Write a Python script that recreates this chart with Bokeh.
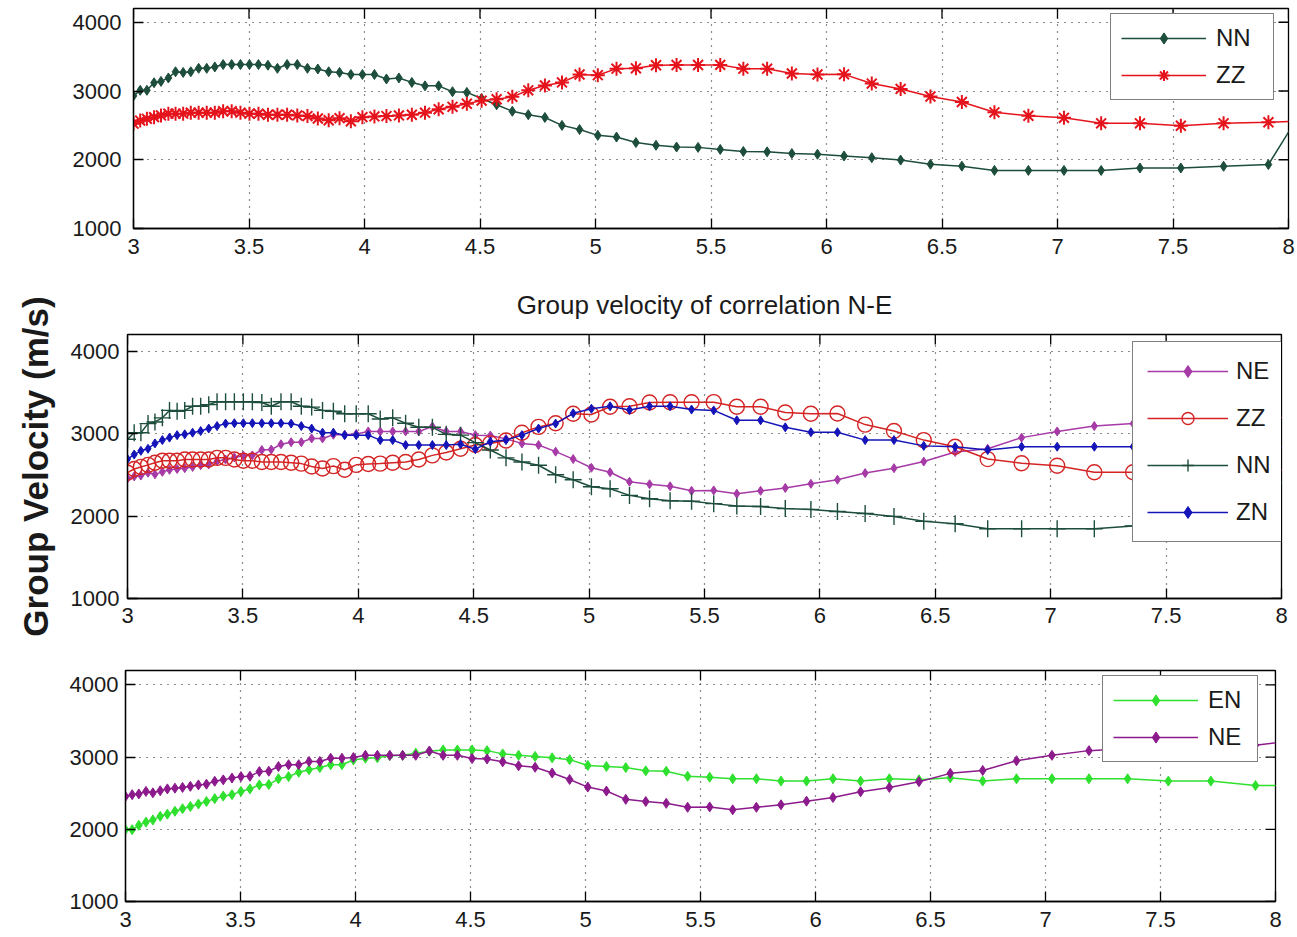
import math
from bokeh.plotting import figure
from bokeh.layouts import column
from bokeh.models import FixedTicker, Legend, LegendItem, Range1d, Title
from bokeh.embed import file_html
from bokeh.resources import INLINE

# ---------------- data ----------------
period = [3.000, 3.029, 3.058, 3.089, 3.119, 3.151, 3.182, 3.215, 3.248, 3.282,
          3.317, 3.352, 3.388, 3.425, 3.463, 3.502, 3.541, 3.582, 3.623, 3.665,
          3.709, 3.753, 3.798, 3.845, 3.892, 3.941, 3.991, 4.043, 4.095, 4.149,
          4.205, 4.262, 4.321, 4.381, 4.443, 4.507, 4.572, 4.640, 4.709, 4.781,
          4.855, 4.931, 5.010, 5.091, 5.175, 5.262, 5.351, 5.444, 5.540, 5.640,
          5.743, 5.850, 5.961, 6.076, 6.196, 6.321, 6.450, 6.586, 6.727, 6.874,
          7.028, 7.189, 7.357, 7.534, 7.719, 7.913, 8.118]

NN = [2930, 3010, 3010, 3120, 3140, 3190, 3280, 3270, 3280, 3330,
      3330, 3350, 3385, 3385, 3385, 3385, 3385, 3375, 3330, 3385,
      3385, 3330, 3320, 3280, 3270, 3240, 3240, 3240, 3175, 3190,
      3125, 3075, 3075, 2990, 2980, 2890, 2800, 2705, 2655, 2615,
      2500, 2440, 2355, 2330, 2250, 2210, 2185, 2180, 2150, 2120,
      2115, 2090, 2080, 2055, 2030, 1995, 1935, 1907, 1845, 1845,
      1845, 1845, 1880, 1880, 1905, 1930, 3040]

ZZ = [2525, 2570, 2595, 2620, 2645, 2670, 2670, 2670, 2685, 2685,
      2685, 2685, 2705, 2705, 2685, 2670, 2670, 2655, 2655, 2655,
      2645, 2635, 2600, 2575, 2605, 2560, 2620, 2630, 2635, 2645,
      2655, 2685, 2735, 2770, 2815, 2860, 2880, 2915, 3010, 3080,
      3125, 3240, 3230, 3325, 3330, 3375, 3378, 3378, 3380, 3325,
      3325, 3255, 3240, 3242, 3108, 3030, 2920, 2840, 2690, 2640,
      2610, 2530, 2530, 2495, 2530, 2545, 2575]

ZN = [2690, 2745, 2790, 2815, 2880, 2920, 2950, 2980, 2990, 3010,
      3030, 3060, 3090, 3120, 3125, 3125, 3125, 3125, 3125, 3125,
      3120, 3090, 3060, 3010, 3010, 2980, 2980, 2980, 2920, 2920,
      2860, 2860, 2860, 2860, 2870, 2810, 2900, 2920, 2980, 3060,
      3120, 3245, 3300, 3330, 3285, 3330, 3330, 3290, 3280, 3160,
      3160, 3075, 3015, 3015, 2920, 2920, 2850, 2840, 2800, 2840,
      2840, 2840, 2840, 2840, 2840, 2840, 2840]

NE = [2455, 2480, 2490, 2525, 2505, 2535, 2560, 2570, 2580, 2595,
      2615, 2625, 2665, 2685, 2710, 2730, 2735, 2800, 2805, 2870,
      2895, 2895, 2940, 2940, 2985, 2985, 2995, 3025, 3025, 3025,
      3025, 3025, 3085, 3025, 3025, 2980, 2975, 2935, 2880, 2860,
      2780, 2690, 2585, 2530, 2415, 2385, 2360, 2305, 2310, 2270,
      2305, 2340, 2390, 2440, 2520, 2580, 2660, 2775, 2815, 2950,
      3025, 3090, 3120, 3135, 3150, 3165, 3240]

EN = [1995, 1995, 2055, 2100, 2130, 2180, 2210, 2250, 2285, 2315,
      2350, 2385, 2425, 2460, 2480, 2525, 2560, 2615, 2620, 2700,
      2730, 2790, 2825, 2855, 2895, 2895, 2960, 2985, 2990, 3020,
      3025, 3055, 3080, 3100, 3100, 3100, 3090, 3045, 3025, 3010,
      2990, 2965, 2885, 2870, 2855, 2810, 2805, 2735, 2722, 2700,
      2700, 2668, 2668, 2700, 2668, 2700, 2685, 2713, 2668, 2700,
      2700, 2700, 2700, 2668, 2668, 2606, 2606]

x_ticks = [3, 3.5, 4, 4.5, 5, 5.5, 6, 6.5, 7, 7.5, 8]
x_tick_labels = ["3", "3.5", "4", "4.5", "5", "5.5", "6", "6.5", "7", "7.5", "8"]
y_ticks = [1000, 2000, 3000, 4000]
y_tick_labels = ["1000", "2000", "3000", "4000"]
X_MIN, X_MAX = 3, 8
Y_MIN, Y_MAX = 1000, 4200

title_mid = "Group velocity of correlation N-E"
y_label = "Group Velocity (m/s)"

FONT = "Liberation Sans"
TICK_FS = "22px"
LEG_FS = "24px"
TXT = "#1a1a1a"

C_NN = "#1d4d3b"
C_ZZ = "#e5141c"
C_ZZ2 = "#d42424"
C_ZN = "#1414b8"
C_NE1 = "#a63aa6"
C_NE2 = "#8c1a8c"
C_EN = "#2fe02f"


def style_axis(ax, ticks, labels, standoff):
    ax.ticker = FixedTicker(ticks=ticks)
    ax.major_label_overrides = {t: l for t, l in zip(ticks, labels)}
    ax.major_tick_in = 10
    ax.major_tick_out = 0
    ax.minor_tick_in = 0
    ax.minor_tick_out = 0
    ax.axis_line_color = "black"
    ax.axis_line_width = 1.3
    ax.major_tick_line_color = "black"
    ax.major_tick_line_width = 1.3
    ax.major_label_text_font = FONT
    ax.major_label_text_font_size = TICK_FS
    ax.major_label_text_color = TXT
    ax.major_label_standoff = standoff


def make_fig(height, bl, br, bt, bb, xs, ys):
    p = figure(width=1297, height=height,
               x_range=Range1d(X_MIN, X_MAX), y_range=Range1d(Y_MIN, Y_MAX),
               output_backend="svg", toolbar_location=None,
               min_border_left=bl, min_border_right=br,
               min_border_top=bt, min_border_bottom=bb)
    if "frame_align" in p.properties():
        p.frame_align = False
    p.outline_line_color = "black"
    p.outline_line_width = 1.3
    p.background_fill_color = "white"
    p.border_fill_color = "white"
    style_axis(p.xaxis[0], x_ticks, x_tick_labels, xs)
    style_axis(p.yaxis[0], y_ticks, y_tick_labels, ys)
    p.xgrid[0].ticker = FixedTicker(ticks=x_ticks)
    p.ygrid[0].ticker = FixedTicker(ticks=y_ticks)
    for g in (p.xgrid[0], p.ygrid[0]):
        g.grid_line_color = "black"
        g.grid_line_alpha = 0.9
        g.grid_line_width = 1.2
        g.grid_line_dash = "1 6"
    # inward ticks on the top and right frame edges (box on), clipped by the frame
    p.scatter(x_ticks, [Y_MAX] * len(x_ticks), marker="dash", angle=math.pi / 2,
              size=20, line_color="black", line_width=1.3)
    p.scatter([X_MAX] * len(y_ticks), y_ticks, marker="dash",
              size=20, line_color="black", line_width=1.3)
    return p


def series(p, y, color, marker, size, fill=True, lw=1.5, mlw=1.0):
    l = p.line(period, y, line_color=color, line_width=lw)
    s = p.scatter(period, y, marker=marker, size=size,
                  fill_color=color if fill else None,
                  line_color=color, line_width=mlw)
    return [l, s]


def add_legend(p, items, loc, pad, spacing, gw, gh, lw, standoff=10):
    leg = Legend(items=[LegendItem(label=t, renderers=r) for t, r in items],
                 location=loc, padding=pad, spacing=spacing,
                 glyph_width=gw, glyph_height=gh, label_height=gh,
                 label_width=lw, label_standoff=standoff, margin=0,
                 label_text_font=FONT, label_text_font_size=LEG_FS,
                 label_text_color=TXT,
                 border_line_color="black", border_line_width=1.3,
                 background_fill_color="white", background_fill_alpha=1.0)
    p.add_layout(leg)


# ---------------- top panel ----------------
p1 = make_fig(270, 133, 9, 8, 42, 10, 12)
r_nn = series(p1, NN, C_NN, "diamond", 10)
r_zz = series(p1, ZZ, C_ZZ, "asterisk", 14, fill=False, mlw=2)
add_legend(p1, [("NN", r_nn), ("ZZ", r_zz)], (977, 128), 10, 9, 85, 28, 47)

# ---------------- middle panel ----------------
p2 = make_fig(370, 127, 16, 64, 42, 9, 8)
p2.add_layout(Title(text=title_mid, align="center", text_font=FONT,
                    text_font_size="26px", text_font_style="normal",
                    text_color=TXT, standoff=29), "above")
p2.yaxis[0].axis_label = y_label
p2.yaxis[0].axis_label_text_font = FONT
p2.yaxis[0].axis_label_text_font_size = "35px"
p2.yaxis[0].axis_label_text_font_style = "bold"
p2.yaxis[0].axis_label_text_color = TXT
p2.yaxis[0].axis_label_standoff = 13
m_ne = series(p2, NE, C_NE1, "diamond", 9)
m_zz = series(p2, ZZ, C_ZZ2, "circle", 15, fill=False, mlw=1.4)
m_nn = series(p2, NN, C_NN, "cross", 17, fill=False, mlw=1.4)
m_zn = series(p2, ZN, C_ZN, "diamond", 9)
add_legend(p2, [("NE", m_ne), ("ZZ", m_zz), ("NN", m_nn), ("ZN", m_zn)],
           (1005, 56), 14, 17, 81, 30, 35, standoff=8)

# ---------------- bottom panel ----------------
p3 = make_fig(297, 125, 22, 30, 36, 10, 7)
b_en = series(p3, EN, C_EN, "diamond", 10)
b_ne = series(p3, NE, C_NE2, "diamond", 10)
add_legend(p3, [("EN", b_en), ("NE", b_ne)], (977, 139), 10, 9, 85, 28, 39)

layout = column(p1, p2, p3, spacing=0)
open("out.html", "w").write(file_html(layout, INLINE))
